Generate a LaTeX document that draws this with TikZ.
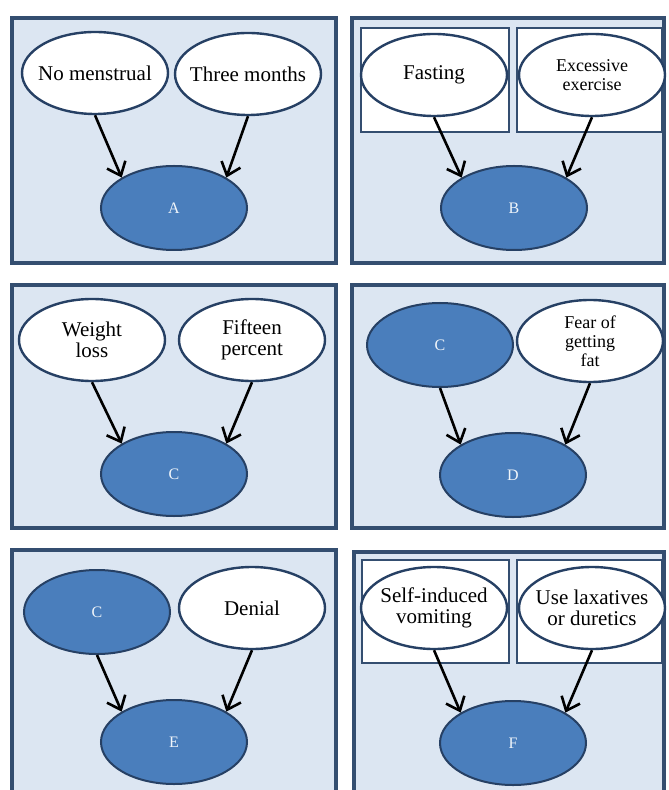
\documentclass[tikz,border=0pt]{standalone}
\usepackage{fontspec}
\setmainfont{Liberation Serif}
\usepackage{tikz}
\usetikzlibrary{arrows.meta,shapes.geometric}
\definecolor{panelfill}{RGB}{220,230,242}
\definecolor{paneledge}{RGB}{52,78,112}
\definecolor{causefill}{RGB}{74,126,188}
\definecolor{causeedge}{RGB}{38,64,100}

\begin{document}
\begin{tikzpicture}[x=0.5pt,y=-0.5pt]

\tikzset{panel/.style={fill=panelfill, draw=paneledge, line width=1.8pt},
inbox/.style={fill=white, draw=paneledge, line width=1.4pt},
lighttext/.style={align=center, font=\fontsize{10.5}{10.5}\selectfont, inner sep=0pt},
smalltext/.style={align=center, font=\fontsize{9}{9.5}\selectfont, inner sep=0pt},
%text goes in a label so the ellipse keeps its size
light/.style={ellipse, draw=causeedge, fill=white, line width=1.2pt, minimum width=73pt, minimum height=41pt, label={[lighttext]center:#1}},
lightsmall/.style={light, label={[smalltext]center:#1}},
dark/.style={ellipse, draw=causeedge, fill=causefill, line width=1pt, minimum width=73pt, minimum height=42pt, inner sep=0pt, text=white!92!causefill, font=\fontsize{8}{8}\selectfont},
arr/.style={-{Straight Barb[length=6pt,width=10pt]}, line width=1.3pt, black}}

\path[use as bounding box, fill=white] (0,0) rectangle (668,790);

%the six panels
\foreach \x/\y/\z/\a in {12/18/336/263, 352/18/664/263, 12/285/336/528, 352/285/664/528, 12/550/336/800, 354/552/664/800}
  \draw[panel] (\x,\y) rectangle (\z,\a);

\foreach \x/\y/\z/\a in {361/28/509/132, 517/28/662/132, 362/560/509/663, 517/560/662/663}
  \draw[inbox] (\x,\y) rectangle (\z,\a);

%top row
\node[light={No menstrual}] (nomens) at (95,73) {};
\node[light={Three months}] (three) at (248,74) {};
\node[dark] (A) at (174,208) {A};

\node[light={Fasting}] (fast) at (434,75) {};
\node[lightsmall={Excessive\\exercise}] (exer) at (592,75) {};
\node[dark] (B) at (514,208) {B};

%middle row
\node[light={Weight\\loss}] (weight) at (92,340) {};
\node[light={Fifteen\\percent}] (fifteen) at (252,340) {};
\node[dark] (C) at (174,474) {C};

\node[dark] (Cd) at (440,345) {C};
\node[lightsmall={Fear of\\getting\\fat}] (fear) at (590,341) {};
\node[dark] (D) at (513,475) {D};

%bottom row
\node[dark] (Ce) at (97,612) {C};
\node[light={Denial}] (denial) at (252,608) {};
\node[dark] (E) at (174,742) {E};

\node[light={Self-induced\\vomiting}] (self) at (434,608) {};
\node[light={Use laxatives\\or duretics}] (lax) at (592,608) {};
\node[dark] (F) at (513,743) {F};

%now the arrows
\draw[arr] (nomens.south) -- (A.north west);
\draw[arr] (three.south) -- (A.north east);
\draw[arr] (fast.south) -- (B.north west);
\draw[arr] (exer.south) -- (B.north east);
\draw[arr] (weight.south) -- (C.north west);
\draw[arr] (fifteen.south) -- (C.north east);
\draw[arr] (Cd.south) -- (D.north west);
\draw[arr] (fear.south) -- (D.north east);
\draw[arr] (Ce.south) -- (E.north west);
\draw[arr] (denial.south) -- (E.north east);
\draw[arr] (self.south) -- (F.north west);
\draw[arr] (lax.south) -- (F.north east);

\end{tikzpicture}
\end{document}
